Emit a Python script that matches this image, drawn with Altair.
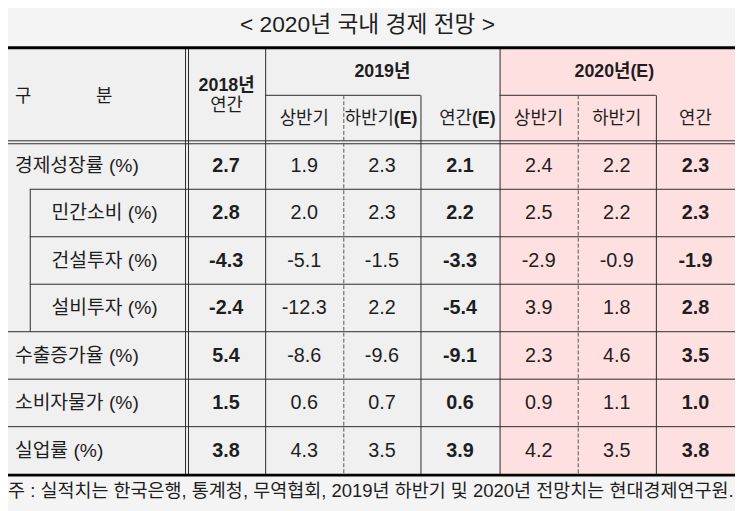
import altair as alt
import pandas as pd

# ---------------- data ----------------
title_text = "< 2020년 국내 경제 전망 >"
footnote_text = "주 : 실적치는 한국은행, 통계청, 무역협회, 2019년 하반기 및 2020년 전망치는 현대경제연구원."

categories = ["경제성장률 (%)", "민간소비 (%)", "건설투자 (%)", "설비투자 (%)",
              "수출증가율 (%)", "소비자물가 (%)", "실업률 (%)"]
is_sub_item = [False, True, True, True, False, False, False]

v2018_year = [2.7, 2.8, -4.3, -2.4, 5.4, 1.5, 3.8]
v2019_h1 = [1.9, 2.0, -5.1, -12.3, -8.6, 0.6, 4.3]
v2019_h2 = [2.3, 2.3, -1.5, 2.2, -9.6, 0.7, 3.5]
v2019_year = [2.1, 2.2, -3.3, -5.4, -9.1, 0.6, 3.9]
v2020_h1 = [2.4, 2.5, -2.9, 3.9, 2.3, 0.9, 4.2]
v2020_h2 = [2.2, 2.2, -0.9, 1.8, 4.6, 1.1, 3.5]
v2020_year = [2.3, 2.3, -1.9, 2.8, 3.5, 1.0, 3.8]

value_columns = [v2018_year, v2019_h1, v2019_h2, v2019_year, v2020_h1, v2020_h2, v2020_year]
bold_columns = [True, False, False, True, False, False, True]

group_labels = ["2019년", "2020년(E)"]
sub_headers = ["상반기", "하반기(E)", "연간(E)", "상반기", "하반기", "연간"]

# ---------------- layout (reference pixel space) ----------------
FONT = "'Liberation Sans', 'Noto Sans CJK KR', sans-serif"
TXT = "#1e1e1e"
X_EDGES = [0, 189, 268, 347, 425, 505, 584, 663, 743]
ROW_EDGES = [142, 189, 237, 285, 333, 381, 429, 477]
TOP, BOTTOM = 45, 477

xs = alt.Scale(domain=[8, 743], nice=False, zero=False)
ys = alt.Scale(domain=[8, 511], nice=False, zero=False, reverse=True)


def X(f="x"):
    return alt.X(f"{f}:Q", scale=xs, axis=None)


def Y(f="y"):
    return alt.Y(f"{f}:Q", scale=ys, axis=None)


# backgrounds
bg_df = pd.DataFrame([
    {"x": 0, "x2": 505, "y": TOP, "y2": BOTTOM, "c": "#f0f0f0"},
    {"x": 505, "x2": 743, "y": TOP, "y2": BOTTOM, "c": "#ffe0e0"},
])
bg = alt.Chart(bg_df).mark_rect().encode(
    x=X(), x2="x2:Q", y=Y(), y2="y2:Q",
    color=alt.Color("c:N", scale=None))

# lines
thin = [
    (268, 425, 93.5, 93.5), (505, 663, 93.5, 93.5),
    (0, 743, 139.5, 139.5), (0, 743, 142.5, 142.5),
    (30, 743, 188.5, 188.5), (30, 743, 236.5, 236.5), (30, 743, 284.5, 284.5),
    (0, 743, 332.5, 332.5), (0, 743, 380.5, 380.5), (0, 743, 428.5, 428.5),
    (30.5, 30.5, 188.5, 332.5),
    (187.5, 187.5, TOP, BOTTOM), (190.5, 190.5, TOP, BOTTOM),
    (268.5, 268.5, TOP, BOTTOM), (425.5, 425.5, 93.5, BOTTOM),
    (505.5, 505.5, TOP, BOTTOM), (663.5, 663.5, 93.5, BOTTOM),
]
dashed = [(347.5, 347.5, 93.5, BOTTOM), (584.5, 584.5, 93.5, BOTTOM)]
thick = [(0, 743, 45.5, 45.5), (0, 743, 477.5, 477.5)]


def seg_df(segs):
    return pd.DataFrame(segs, columns=["x", "x2", "y", "y2"])


rule_enc = dict(x=X(), x2="x2:Q", y=Y(), y2="y2:Q")
thin_l = alt.Chart(seg_df(thin)).mark_rule(color="#2a2a2a", strokeWidth=1).encode(**rule_enc)
dash_l = alt.Chart(seg_df(dashed)).mark_rule(color="#555555", strokeWidth=1, strokeDash=[4, 2]).encode(**rule_enc)
thick_l = alt.Chart(seg_df(thick)).mark_rule(color="#000000", strokeWidth=3).encode(**rule_enc)

# header texts
hdr_rows = []
hdr_rows.append({"t": "구", "x": 15, "y": 95, "b": False, "a": "left"})
hdr_rows.append({"t": "분", "x": 97, "y": 95, "b": False, "a": "left"})
hdr_rows.append({"t": "2018년", "x": 229, "y": 84, "b": True, "a": "center"})
hdr_rows.append({"t": "연간", "x": 229, "y": 104, "b": False, "a": "center"})
hdr_rows.append({"t": group_labels[0], "x": (X_EDGES[2] + X_EDGES[5]) / 2, "y": 70, "b": True, "a": "center"})
hdr_rows.append({"t": group_labels[1], "x": (X_EDGES[5] + X_EDGES[8]) / 2 - 3, "y": 70, "b": True, "a": "center"})
for i, s in enumerate(sub_headers):
    cx = (X_EDGES[i + 2] + X_EDGES[i + 3]) / 2
    if s.endswith("(E)"):
        base = s[:-3]
        split_x = cx + 12
        hdr_rows.append({"t": base, "x": split_x, "y": 118, "b": False, "a": "right"})
        hdr_rows.append({"t": "(E)", "x": split_x, "y": 118, "b": True, "a": "left"})
    else:
        hdr_rows.append({"t": s, "x": cx, "y": 118, "b": False, "a": "center"})
hdr_df = pd.DataFrame(hdr_rows)

# category labels
lab_rows = []
for r, (c, sub) in enumerate(zip(categories, is_sub_item)):
    lab_rows.append({"t": c, "x": 52 if sub else 15,
                     "y": (ROW_EDGES[r] + ROW_EDGES[r + 1]) / 2, "b": False, "a": "left"})
lab_df = pd.DataFrame(lab_rows)

# values
val_rows = []
for ci, (col, bold) in enumerate(zip(value_columns, bold_columns)):
    for r, v in enumerate(col):
        val_rows.append({"t": f"{v:.1f}", "x": (X_EDGES[ci + 1] + X_EDGES[ci + 2]) / 2,
                         "y": (ROW_EDGES[r] + ROW_EDGES[r + 1]) / 2, "b": bold, "a": "center"})
val_df = pd.DataFrame(val_rows)


def text_layer(df, size, bold, align):
    d = df[(df["b"] == bold) & (df["a"] == align)]
    return alt.Chart(d).mark_text(font=FONT, fontSize=size, fontWeight="bold" if bold else "normal",
                                  align=align, baseline="middle", color=TXT).encode(
        x=X(), y=Y(), text="t:N")


layers = [bg, thin_l, dash_l, thick_l]
for b in [False, True]:
    for a in ["left", "center", "right"]:
        if len(hdr_df[(hdr_df.b == b) & (hdr_df.a == a)]):
            layers.append(text_layer(hdr_df, 18, b, a))
layers.append(text_layer(lab_df, 19.5, False, "left"))
for b in [False, True]:
    layers.append(text_layer(val_df, 20, b, "center"))

title_df = pd.DataFrame([{"t": title_text, "x": 371.5, "y": 23}])
title_l = alt.Chart(title_df).mark_text(font=FONT, fontSize=23, align="center", baseline="middle",
                                        color=TXT).encode(x=X(), y=Y(), text="t:N")
foot_df = pd.DataFrame([{"t": footnote_text, "x": 8, "y": 494}])
foot_l = alt.Chart(foot_df).mark_text(font=FONT, fontSize=18.7, align="left", baseline="middle",
                                      color=TXT).encode(x=X(), y=Y(), text="t:N")
layers += [title_l, foot_l]

chart = alt.layer(*layers).properties(
    width=735, height=503, padding=0, background="#f4f4f4",
    autosize=alt.AutoSizeParams(type="none"),
).configure_view(stroke=None)

chart.save("out.html", embed_options={"renderer": "svg", "actions": False})
